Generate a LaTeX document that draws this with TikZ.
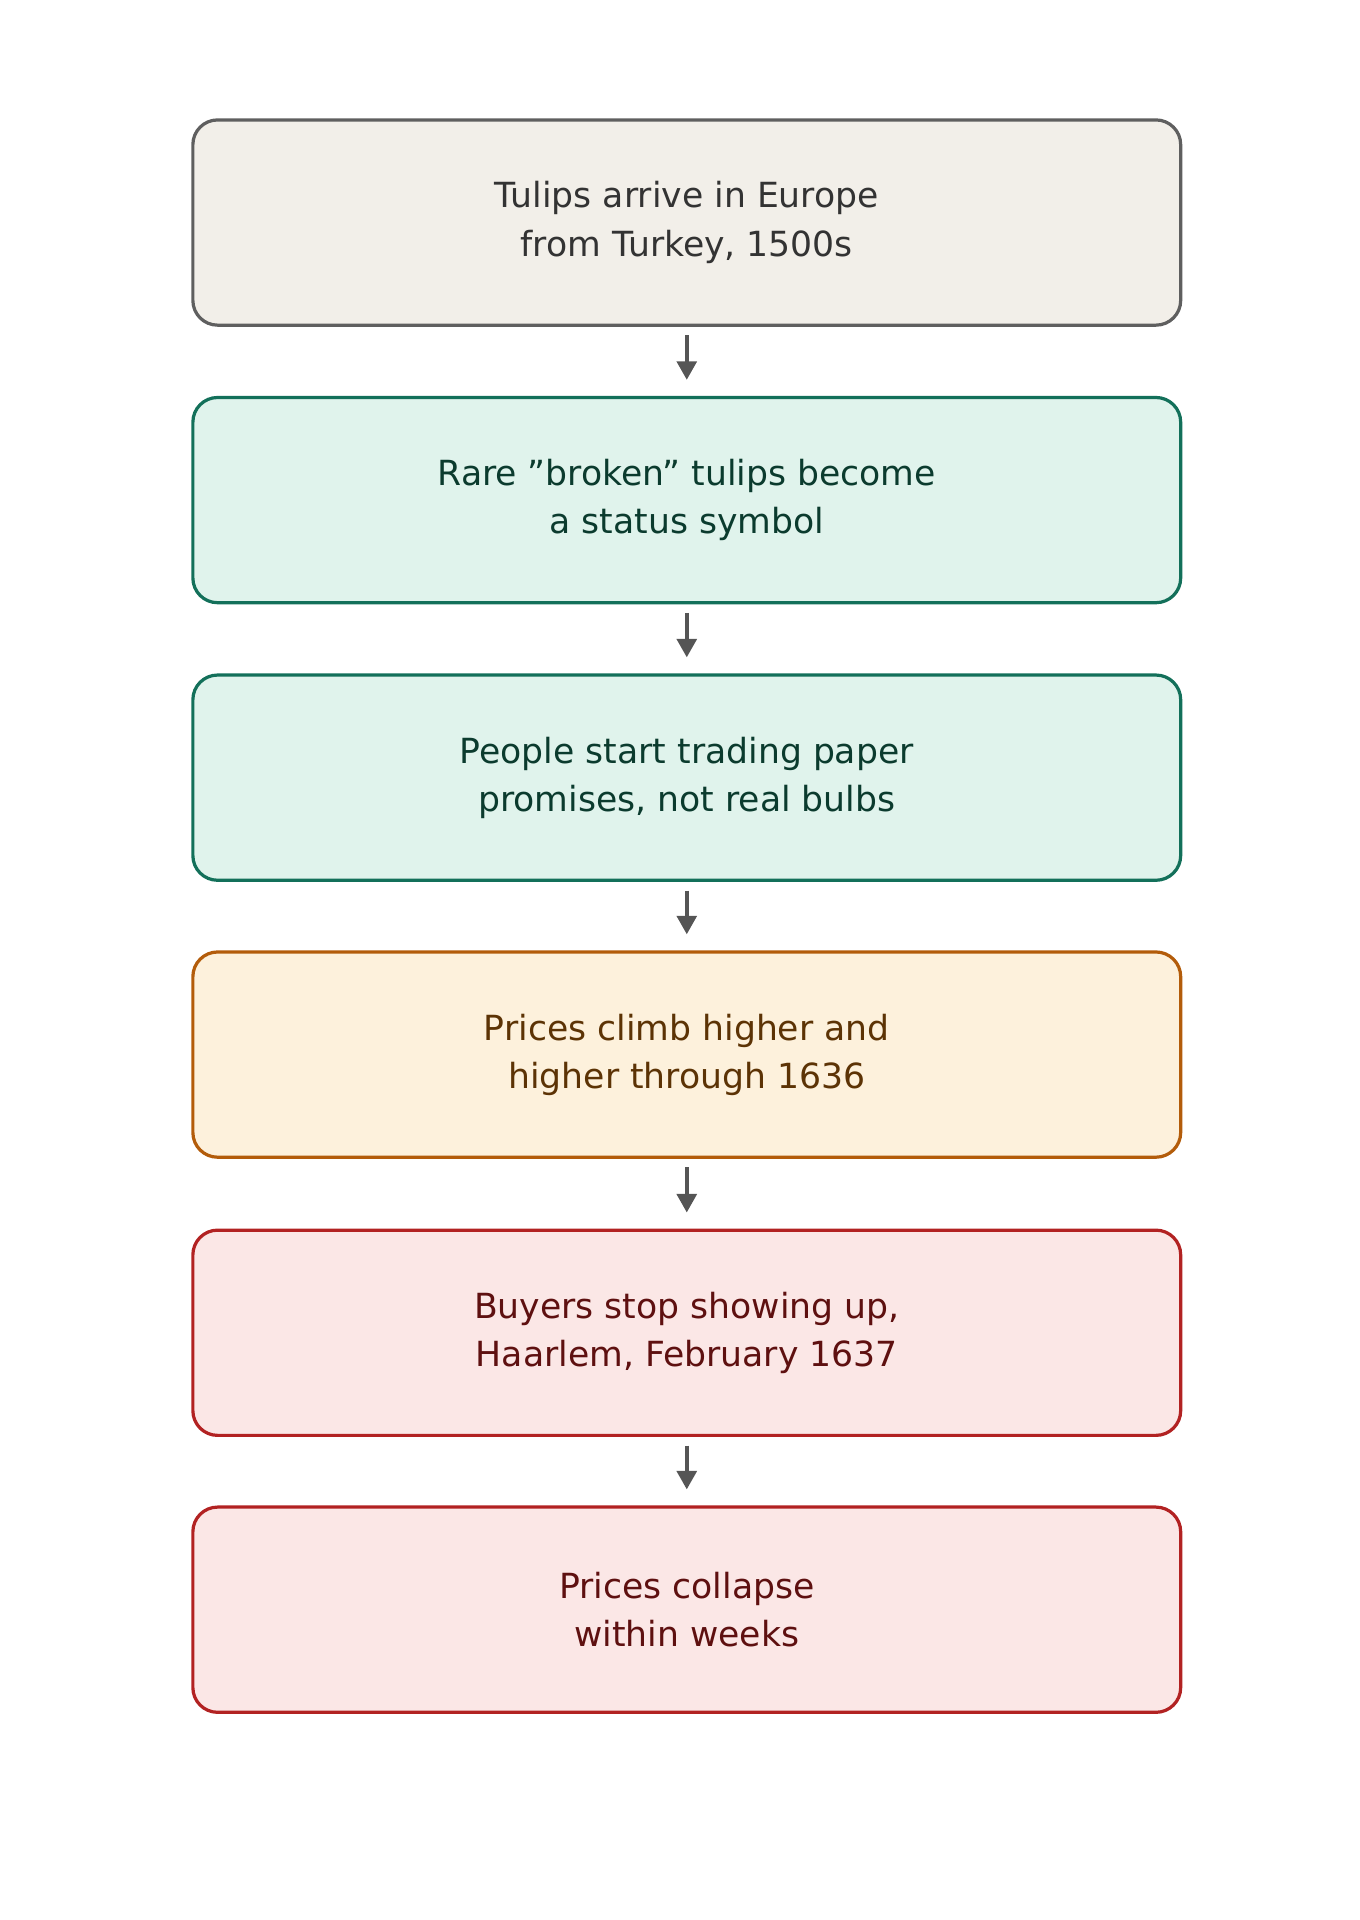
\documentclass[tikz,border=0pt]{standalone}
\usepackage{fontspec}
\setmainfont{DejaVu Sans}
\usetikzlibrary{arrows.meta}
\definecolor{startfill}{HTML}{F2EFE9}\definecolor{startline}{HTML}{5F5F5F}\definecolor{starttext}{HTML}{333333}
\definecolor{greenfill}{HTML}{E0F3EC}\definecolor{greenline}{HTML}{13705A}\definecolor{greentext}{HTML}{0B3B2E}
\definecolor{orangefill}{HTML}{FDF1DC}\definecolor{orangeline}{HTML}{B35C0A}\definecolor{orangetext}{HTML}{5C3305}
\definecolor{redfill}{HTML}{FBE7E6}\definecolor{redline}{HTML}{B22222}\definecolor{redtext}{HTML}{5E1010}
\definecolor{arrowgray}{HTML}{555555}
\tikzset{
  stagebox/.style={draw,line width=2.6pt,rounded corners=20pt,minimum width=799pt,minimum height=166pt,
    inner sep=0pt,align=center,font=\fontsize{28}{39}\selectfont},
  startbox/.style={stagebox,fill=startfill,draw=startline,text=starttext},
  greenbox/.style={stagebox,fill=greenfill,draw=greenline,text=greentext},
  orangebox/.style={stagebox,fill=orangefill,draw=orangeline,text=orangetext},
  redbox/.style={stagebox,fill=redfill,draw=redline,text=redtext},
  flow/.style={draw=arrowgray,line width=3pt,-{Triangle[length=15pt,width=16pt]},shorten <=7pt,shorten >=13pt}
}
\begin{document}
\begin{tikzpicture}[x=1pt,y=-1pt]
  \useasboundingbox (0,0) rectangle (1100,1553);
  \node[startbox] (tulips) at (555.5,180) {Tulips arrive in Europe\\from Turkey, 1500s};
  \node[greenbox] (broken) at (555.5,404.5) {Rare \symbol{34}broken\symbol{34} tulips become\\a status symbol};
  \node[greenbox] (paper) at (555.5,629) {People start trading paper\\promises, not real bulbs};
  \node[orangebox] (climb) at (555.5,853) {Prices climb higher and\\higher through 1636};
  \node[redbox] (buyers) at (555.5,1078) {Buyers stop showing up,\\Haarlem, February 1637};
  \node[redbox] (collapse) at (555.5,1302) {Prices collapse\\within weeks};
  \foreach \a/\b in {tulips/broken,broken/paper,paper/climb,climb/buyers,buyers/collapse}
    \draw[flow] (\a) -- (\b);
\end{tikzpicture}
\end{document}
